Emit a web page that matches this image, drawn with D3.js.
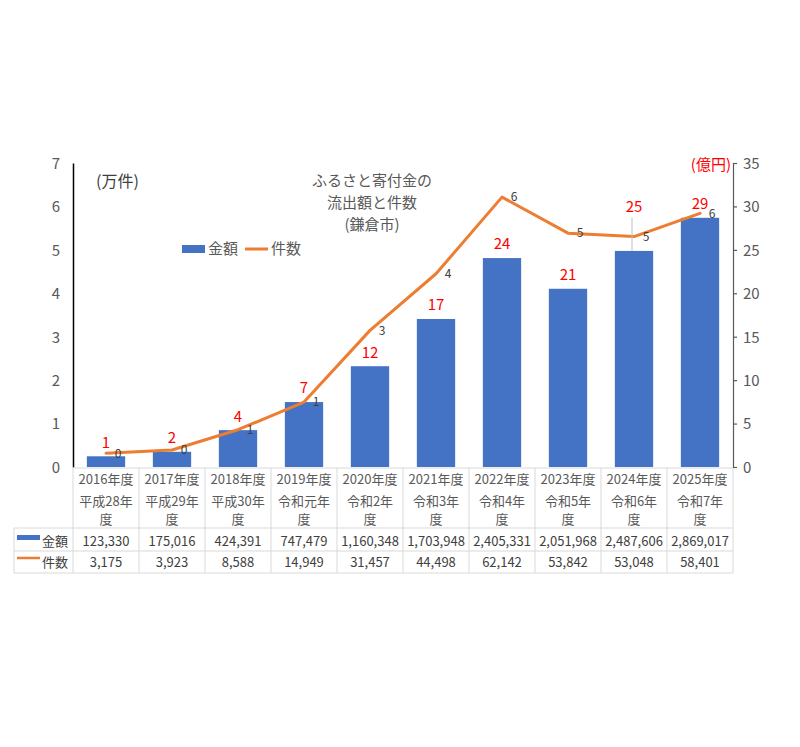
<!DOCTYPE html>
<html lang="ja">
<head>
<meta charset="UTF-8">
<title>ふるさと寄付金の流出額と件数</title>
<style>
    *{ margin: 0; padding: 0; }
    html, body{ width: 100%; height: 100%; background: #fff; }
    svg text{ font-family: "Noto Sans CJK JP", "Noto Sans", sans-serif; }
    #leftAxis .domain{ stroke: #000; stroke-width: 1.5; }
    #rightAxis .domain, #rightAxis line{ stroke: #595959; stroke-width: 1.2; }
    #leftAxis text, #rightAxis text{ fill: #595959; font-size: 15px; }
</style>
</head>
<body>
<div id="chart"></div>
<script src="https://cdn.jsdelivr.net/npm/d3@7"></script>
<script>
    /* 年度 */
    var years = ["2016年度", "2017年度", "2018年度", "2019年度", "2020年度",
                 "2021年度", "2022年度", "2023年度", "2024年度", "2025年度"];
    /* 和暦（2行に折り返し） */
    var eraLine1 = ["平成28年", "平成29年", "平成30年", "令和元年", "令和2年",
                    "令和3年", "令和4年", "令和5年", "令和6年", "令和7年"];
    var eraLine2 = ["度", "度", "度", "度", "度", "度", "度", "度", "度", "度"];
    /* 金額（千円） */
    var amounts = [123330, 175016, 424391, 747479, 1160348,
                   1703948, 2405331, 2051968, 2487606, 2869017];
    /* 件数 */
    var counts = [3175, 3923, 8588, 14949, 31457,
                  44498, 62142, 53842, 53048, 58401];
    /* 軸目盛 */
    var leftTicks = [0, 1, 2, 3, 4, 5, 6, 7];
    var rightTicks = [0, 5, 10, 15, 20, 25, 30, 35];

    var W = 800, H = 747;
    var plotL = 73, plotR = 733, plotT = 163, plotB = 467;

    var svg = d3.select("#chart").append("svg")
        .attr("width", W)
        .attr("height", H);

    /*比例尺*/
    var x = d3.scaleBand()
        .domain(years)
        .range([plotL, plotR])
        .paddingInner(0.42)
        .paddingOuter(0.21);
    var step = x.step();
    var cx = function (d) { return x(d) + x.bandwidth() / 2; };

    var yLeft = d3.scaleLinear().domain([0, 7]).range([plotB, plotT]);   // 万件
    var yRight = d3.scaleLinear().domain([0, 35]).range([plotB, plotT]); // 億円

    var oku = amounts.map(function (v) { return v / 100000; });
    var man = counts.map(function (v) { return v / 10000; });

    /*坐标轴*/
    svg.append("g")
        .attr("id", "leftAxis")
        .attr("transform", "translate(" + plotL + ",0)")
        .call(d3.axisLeft(yLeft).tickValues(leftTicks).tickFormat(d3.format("d"))
            .tickSize(0).tickPadding(13))
        .call(function (g) { g.selectAll("text").attr("dy", "0.36em"); });

    svg.append("g")
        .attr("id", "rightAxis")
        .attr("transform", "translate(" + plotR + ",0)")
        .call(d3.axisRight(yRight).tickValues(rightTicks).tickFormat(d3.format("d"))
            .tickSizeInner(4).tickSizeOuter(4).tickPadding(6))
        .call(function (g) { g.selectAll("text").attr("dy", "0.36em"); });

    /*柱*/
    svg.append("g").selectAll("rect")
        .data(years)
        .enter()
        .append("rect")
        .attr("x", function (d) { return x(d); })
        .attr("y", function (d, i) { return yRight(oku[i]); })
        .attr("width", x.bandwidth())
        .attr("height", function (d, i) { return plotB - yRight(oku[i]); })
        .attr("fill", "#4472C4");

    /*折线*/
    var line = d3.line()
        .x(function (d, i) { return cx(years[i]); })
        .y(function (d) { return yLeft(d); });
    svg.append("path")
        .datum(man)
        .attr("d", line)
        .attr("fill", "none")
        .attr("stroke", "#ED7D31")
        .attr("stroke-width", 3)
        .attr("stroke-linejoin", "round")
        .attr("stroke-linecap", "round");

    /*金額ラベル（億円、赤）*/
    var amtLabels = svg.append("g");
    oku.forEach(function (v, i) {
        var px = cx(years[i]);
        var top = yRight(v);
        var ly = top - 14;
        var lineY = yLeft(man[i]);
        if (Math.abs(ly - lineY) < 8) {
            /*線と重なる場合は上へ逃がして引出線を付ける*/
            ly = lineY - 30;
            amtLabels.append("line")
                .attr("x1", px - 2).attr("x2", px - 2)
                .attr("y1", ly + 11).attr("y2", top)
                .attr("stroke", "#bfbfbf")
                .attr("stroke-width", 1);
        }
        amtLabels.append("text")
            .attr("x", px)
            .attr("y", ly)
            .attr("dy", "0.36em")
            .attr("text-anchor", "middle")
            .style("fill", "#ff0000")
            .style("font-size", "15px")
            .text(Math.round(v));
    });

    /*件数ラベル（万件）*/
    svg.append("g").selectAll("text")
        .data(man)
        .enter()
        .append("text")
        .attr("x", function (d, i) { return cx(years[i]) + 12; })
        .attr("y", function (d) { return yLeft(d); })
        .attr("dy", "0.36em")
        .attr("text-anchor", "middle")
        .style("fill", "#404040")
        .style("font-size", "12px")
        .text(function (d) { return Math.round(d); });

    /*単位*/
    svg.append("text")
        .attr("x", 96).attr("y", 181).attr("dy", "0.36em")
        .style("fill", "#404040").style("font-size", "16px")
        .text("(万件)");
    svg.append("text")
        .attr("x", 731).attr("y", 165).attr("dy", "0.36em")
        .attr("text-anchor", "end")
        .style("fill", "#ff0000").style("font-size", "15px")
        .text("(億円)");

    /*タイトル*/
    var title = ["ふるさと寄付金の", "流出額と件数", "(鎌倉市)"];
    var titleY = [181, 203, 225];
    svg.append("g").selectAll("text")
        .data(title)
        .enter()
        .append("text")
        .attr("x", 372)
        .attr("y", function (d, i) { return titleY[i]; })
        .attr("dy", "0.36em")
        .attr("text-anchor", "middle")
        .style("fill", "#595959")
        .style("font-size", "15px")
        .text(function (d) { return d; });

    /*凡例*/
    var lg = svg.append("g");
    lg.append("rect").attr("x", 182).attr("y", 245).attr("width", 23).attr("height", 8).attr("fill", "#4472C4");
    lg.append("text").attr("x", 208).attr("y", 249).attr("dy", "0.36em")
        .style("fill", "#595959").style("font-size", "15px").text("金額");
    lg.append("line").attr("x1", 245).attr("x2", 268).attr("y1", 249).attr("y2", 249)
        .attr("stroke", "#ED7D31").attr("stroke-width", 3);
    lg.append("text").attr("x", 271).attr("y", 249).attr("dy", "0.36em")
        .style("fill", "#595959").style("font-size", "15px").text("件数");

    /*データテーブル*/
    var tb = svg.append("g");
    var gridColor = "#d9d9d9";
    var rowTop = 468, rowHead = 528, rowAmt = 551, rowBot = 573, tableL = 14;
    var colEdges = d3.range(years.length + 1).map(function (i) { return plotL + i * step; });

    tb.selectAll(".vline")
        .data(colEdges)
        .enter()
        .append("line")
        .attr("class", "vline")
        .attr("x1", function (d) { return d; }).attr("x2", function (d) { return d; })
        .attr("y1", rowTop).attr("y2", rowBot)
        .attr("stroke", gridColor);
    tb.append("line").attr("x1", tableL).attr("x2", tableL).attr("y1", rowHead).attr("y2", rowBot).attr("stroke", gridColor);
    tb.append("line").attr("x1", plotL).attr("x2", plotR).attr("y1", rowTop).attr("y2", rowTop).attr("stroke", gridColor);
    [rowHead, rowAmt, rowBot].forEach(function (yy) {
        tb.append("line").attr("x1", tableL).attr("x2", plotR).attr("y1", yy).attr("y2", yy).attr("stroke", gridColor);
    });

    var headRows = [years, eraLine1, eraLine2];
    var headY = [479, 501, 519];
    headRows.forEach(function (arr, r) {
        tb.append("g").selectAll("text")
            .data(arr)
            .enter()
            .append("text")
            .attr("x", function (d, i) { return cx(years[i]); })
            .attr("y", headY[r])
            .attr("dy", "0.36em")
            .attr("text-anchor", "middle")
            .style("fill", "#595959")
            .style("font-size", "13px")
            .text(function (d) { return d; });
    });

    var fmt = d3.format(",");
    [[amounts, 541], [counts, 562]].forEach(function (row) {
        tb.append("g").selectAll("text")
            .data(row[0])
            .enter()
            .append("text")
            .attr("x", function (d, i) { return cx(years[i]); })
            .attr("y", row[1])
            .attr("dy", "0.36em")
            .attr("text-anchor", "middle")
            .style("fill", "#404040")
            .style("font-size", "13px")
            .text(function (d) { return fmt(d); });
    });

    tb.append("rect").attr("x", 17).attr("y", 535).attr("width", 23).attr("height", 5).attr("fill", "#4472C4");
    tb.append("text").attr("x", 42).attr("y", 541).attr("dy", "0.36em")
        .style("fill", "#404040").style("font-size", "13px").text("金額");
    tb.append("line").attr("x1", 17).attr("x2", 40).attr("y1", 558).attr("y2", 558)
        .attr("stroke", "#ED7D31").attr("stroke-width", 2.5);
    tb.append("text").attr("x", 42).attr("y", 562).attr("dy", "0.36em")
        .style("fill", "#404040").style("font-size", "13px").text("件数");
</script>
</body>
</html>
